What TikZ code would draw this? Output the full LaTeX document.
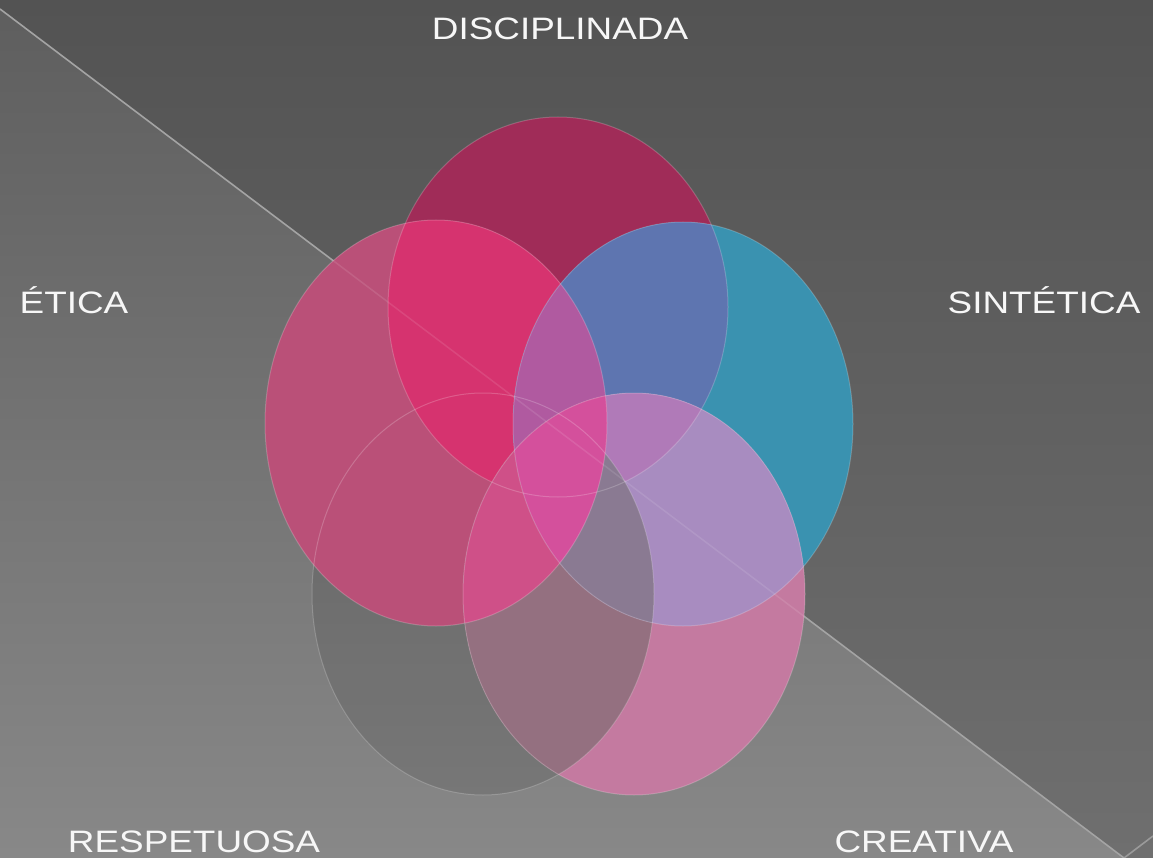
\documentclass[tikz,border=0pt]{standalone}
\usepackage{fontspec}
\setmainfont{Liberation Sans}
\definecolor{lowTop}{HTML}{5E5E5E}
\definecolor{lowBot}{HTML}{888888}
\definecolor{upTop}{HTML}{535353}
\definecolor{upBot}{HTML}{6F6F6F}
\definecolor{lineC}{HTML}{9A9A9A}
\definecolor{cT}{HTML}{A02C58}
\definecolor{cL}{HTML}{BA5078}
\definecolor{cTL}{HTML}{D6336F}
\definecolor{cR}{HTML}{3A92B0}
\definecolor{cTR}{HTML}{5E75B0}
\definecolor{cLR}{HTML}{B05AA0}
\definecolor{cB}{HTML}{C47AA0}
\definecolor{cBG}{HTML}{947080}
\definecolor{cBR}{HTML}{A88CC0}
\definecolor{cBRT}{HTML}{B07AB8}
\definecolor{cBL}{HTML}{CF5088}
\definecolor{cBGR}{HTML}{8A7A92}
\definecolor{cBLR}{HTML}{D4509C}
\def\elT{(558,307) ellipse (170pt and 190pt)}
\def\elL{(436,423) ellipse (171pt and 203pt)}
\def\elR{(683,424) ellipse (170pt and 202pt)}
\def\elG{(483,594) ellipse (171pt and 201pt)}
\def\elB{(634,594) ellipse (171pt and 201pt)}
\begin{document}
\begin{tikzpicture}[x=1pt,y=-1pt,
  lbl/.style={text=white!94!gray, font=\fontsize{31}{31}\selectfont, xscale=1.19, anchor=base, inner sep=0pt},
  rim/.style={draw=white, draw opacity=0.2, line width=1pt},
  bgline/.style={draw=lineC, line width=1.6pt}]
\useasboundingbox (0,0) rectangle (1153,858);
% background
\fill[top color=lowTop, bottom color=lowBot] (0,0) rectangle (1153,858);
\fill[top color=upTop, bottom color=upBot] (0,0) -- (1153,0) -- (1153,858) -- (1124,858) -- (0,9) -- cycle;
\draw[bgline] (0,9) -- (1124,858) -- (1153,836);
% top ellipse
\fill[cT] \elT;
% gray ellipse
\fill[black, opacity=0.1] \elG;
% left ellipse
\fill[cL] \elL;
\begin{scope}\clip \elT; \fill[cTL] \elL; \end{scope}
% right ellipse
\fill[cR] \elR;
\begin{scope}\clip \elT; \fill[cTR] \elR; \end{scope}
\begin{scope}\clip \elL; \fill[cLR] \elR; \end{scope}
% bottom-right ellipse
\fill[cB] \elB;
\begin{scope}\clip \elG; \fill[cBG] \elB; \end{scope}
\begin{scope}\clip \elR; \fill[cBR] \elB; \end{scope}
\begin{scope}\clip \elR; \clip \elT; \fill[cBRT] \elB; \end{scope}
\begin{scope}\clip \elL; \fill[cBL] \elB; \end{scope}
\begin{scope}\clip \elR; \clip \elG; \fill[cBGR] \elB; \end{scope}
\begin{scope}\clip \elR; \clip \elL; \fill[cBLR] \elB; \end{scope}
% rims
\path[rim] \elT; \path[rim] \elL; \path[rim] \elR; \path[rim] \elG; \path[rim] \elB;
\draw[white, opacity=0.1, line width=1.5pt] (0,9) -- (1124,858);
% labels
\node[lbl] (disc) at (560,40) {DISCIPLINADA};
\node[lbl] (etica) at (74,313) {ÉTICA};
\node[lbl] (sint) at (1044,313) {SINTÉTICA};
\node[lbl] (resp) at (194,852) {RESPETUOSA};
\node[lbl] (crea) at (924,852) {CREATIVA};
\end{tikzpicture}
\end{document}
